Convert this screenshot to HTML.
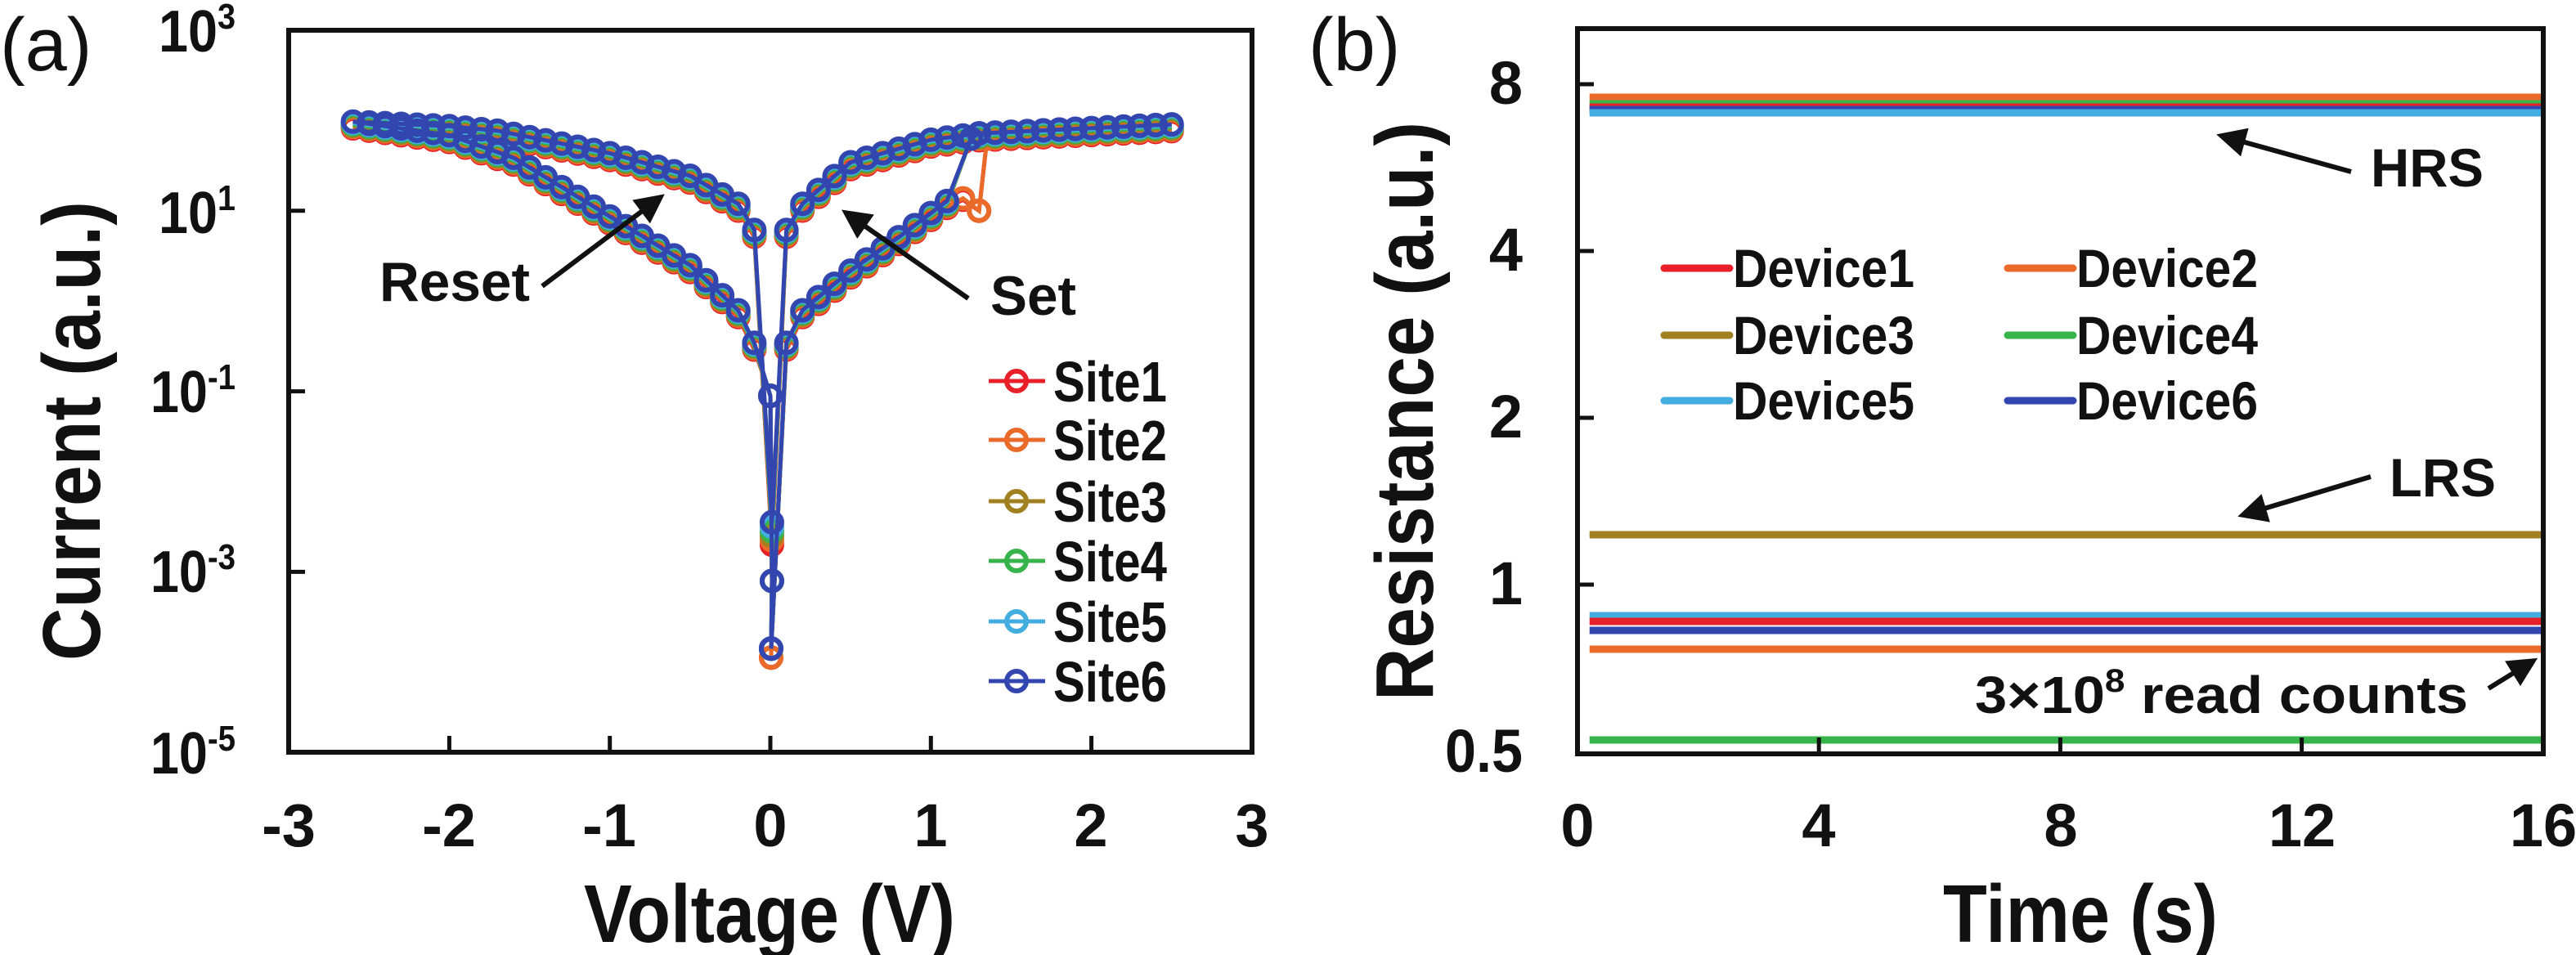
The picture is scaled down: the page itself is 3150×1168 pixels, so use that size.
<!DOCTYPE html>
<html><head><meta charset="utf-8"><style>
html,body{margin:0;padding:0;background:#fff;}
svg{display:block;}
text{font-family:"Liberation Sans Narrow","Liberation Sans",sans-serif;font-weight:bold;fill:#111;}
</style></head><body>
<svg id="s" width="3150" height="1168" viewBox="0 0 3150 1168" xmlns="http://www.w3.org/2000/svg">
<defs><marker id="ah" markerWidth="6" markerHeight="6" refX="5" refY="3" orient="auto" markerUnits="strokeWidth"><path d="M0,0 L6,3 L0,6 z" fill="#111"/></marker></defs>
<g id="g"></g>
<text x="0" y="86" font-size="92" style="font-weight:normal;font-family:'Liberation Sans',sans-serif">(a)</text>
<g font-size="72" text-anchor="end">
<text x="288" y="63" textLength="94" lengthAdjust="spacingAndGlyphs">10<tspan font-size="44" dy="-28">3</tspan></text>
<text x="288" y="285" textLength="94" lengthAdjust="spacingAndGlyphs">10<tspan font-size="44" dy="-28">1</tspan></text>
<text x="288" y="504" textLength="104" lengthAdjust="spacingAndGlyphs">10<tspan font-size="44" dy="-28">-1</tspan></text>
<text x="288" y="724" textLength="104" lengthAdjust="spacingAndGlyphs">10<tspan font-size="44" dy="-28">-3</tspan></text>
<text x="288" y="946" textLength="104" lengthAdjust="spacingAndGlyphs">10<tspan font-size="44" dy="-28">-5</tspan></text>
</g>
<g font-size="74" text-anchor="middle">
<text x="353" y="1035">-3</text><text x="549" y="1035">-2</text><text x="745" y="1035">-1</text><text x="942" y="1035">0</text><text x="1138" y="1035">1</text><text x="1334" y="1035">2</text><text x="1531" y="1035">3</text>
</g>
<text x="714" y="1152" font-size="100" textLength="454" lengthAdjust="spacingAndGlyphs">Voltage (V)</text>
<text transform="translate(122,808) rotate(-90)" font-size="100" textLength="562" lengthAdjust="spacingAndGlyphs">Current (a.u.)</text>
<text x="464" y="368" font-size="68" textLength="184" lengthAdjust="spacingAndGlyphs">Reset</text>
<text x="1211" y="385" font-size="68" textLength="105" lengthAdjust="spacingAndGlyphs">Set</text>
<line x1="663" y1="350" x2="808" y2="241" stroke="#111" stroke-width="6" marker-end="url(#ah)"/>
<line x1="1184" y1="365" x2="1034" y2="260" stroke="#111" stroke-width="6" marker-end="url(#ah)"/>
<text x="1600" y="86" font-size="92" style="font-weight:normal;font-family:'Liberation Sans',sans-serif">(b)</text>
<g font-size="74" text-anchor="end">
<text x="1862" y="127">8</text><text x="1862" y="331">4</text><text x="1862" y="535">2</text><text x="1862" y="739">1</text><text x="1862" y="944" textLength="95" lengthAdjust="spacingAndGlyphs">0.5</text>
</g>
<g font-size="74" text-anchor="middle">
<text x="1929" y="1035">0</text><text x="2224" y="1035">4</text><text x="2520" y="1035">8</text><text x="2815" y="1035">12</text><text x="3110" y="1035">16</text>
</g>
<text x="2376" y="1152" font-size="100" textLength="336" lengthAdjust="spacingAndGlyphs">Time (s)</text>
<text transform="translate(1752,857) rotate(-90)" font-size="100" textLength="708" lengthAdjust="spacingAndGlyphs">Resistance (a.u.)</text>
<text x="2899" y="228" font-size="66" textLength="138" lengthAdjust="spacingAndGlyphs">HRS</text>
<text x="2922" y="607" font-size="66" textLength="130" lengthAdjust="spacingAndGlyphs">LRS</text>
<text x="2415" y="872" font-size="64" textLength="603" lengthAdjust="spacingAndGlyphs">3×10<tspan font-size="40" dy="-26">8</tspan><tspan dy="26"> read counts</tspan></text>
<line x1="2875" y1="210" x2="2716" y2="166" stroke="#111" stroke-width="6" marker-end="url(#ah)"/>
<line x1="2899" y1="583" x2="2742" y2="630" stroke="#111" stroke-width="6" marker-end="url(#ah)"/>
<line x1="3043" y1="842" x2="3098" y2="808" stroke="#111" stroke-width="6" marker-end="url(#ah)"/>
</svg>
<script>
var g=document.getElementById('g'),NS='http://www.w3.org/2000/svg';
function el(t,a){var e=document.createElementNS(NS,t);for(var k in a)e.setAttribute(k,a[k]);g.appendChild(e);return e;}
var cols=['#e8202a','#ea6a2a','#a08020','#36b34a','#44ade0','#3346b0'];
var X=function(v){return 942+v*196.3;},Y=function(l){return 37+(3-l)*110.4;};
function interp(a,v){for(var i=0;i<a.length-1;i++){if(v>=a[i][0]-1e-9&&v<=a[i+1][0]+1e-9){var t=(v-a[i][0])/(a[i+1][0]-a[i][0]);return a[i][1]+t*(a[i+1][1]-a[i][1]);}}return a[a.length-1][1];}
var nu=[[-2.6,1.95],[-2.0,1.9],[-1.7,1.85],[-1.0,1.6],[-0.5,1.35],[-0.2,1.04],[-0.1,0.75]];
var nl=[[-2.6,1.95],[-2.0,1.8],[-1.6,1.55],[-1.0,0.9],[-0.5,0.36],[-0.2,-0.14],[-0.1,-0.5]];
var pu=[[0.1,0.75],[0.2,1.04],[0.5,1.5],[1.0,1.75],[1.3,1.82],[2.5,1.92]];
var pl=[[0.1,-0.5],[0.2,-0.14],[0.5,0.3],[0.8,0.67],[1.1,1.07],[1.2,1.16]];
function rng(a,b){var r=[];for(var v=a;v<=b+1e-9;v+=0.1)r.push(Math.round(v*10)/10);return r;}
for(var s=0;s<6;s++){
 var off=(s-2.5)*0.015, pts=[];
 var jump=(s<2)?1.3:1.2;
 pts.push([0.005,-3.85]);
 rng(0.1,jump-0.0001).forEach(function(v){pts.push([v,interp(pl,v)+off]);});
 if(s<2)pts.push([1.3,1.0]);
 pts.push([jump+0.05,1.8]);
 rng(1.3,2.5).forEach(function(v){pts.push([v,interp(pu,v)+off]);});
 rng(0.1,2.4).reverse().forEach(function(v){pts.push([v,interp(pu,v)+off]);});
 pts.push([0.01,-2.7+s*0.05]);
 pts.push([-0.1,0.75+off]);
 rng(-2.6,-0.2).reverse().forEach(function(v){pts.push([v,interp(nu,v)+off]);});
 rng(-2.5,-0.1).forEach(function(v){pts.push([v,interp(nl,v)+off]);});
 pts.push([0,-1.05]);pts.push([0.01,-3.1]);pts.push([0.005,-3.85-(s<2?0.1:0)]);
 var d=pts.map(function(p,i){return (i?'L':'M')+X(p[0]).toFixed(1)+','+Y(p[1]).toFixed(1);}).join('');
 el('path',{d:d,fill:'none',stroke:cols[s],'stroke-width':5});
 pts.forEach(function(p){el('circle',{cx:X(p[0]),cy:Y(p[1]),r:12,fill:'none',stroke:cols[s],'stroke-width':6});});
}
el('rect',{x:353,y:37,width:1178,height:883,fill:'none',stroke:'#111','stroke-width':6});
[-2,-1,0,1,2].forEach(function(v){el('line',{x1:X(v),x2:X(v),y1:920,y2:900,stroke:'#111','stroke-width':5});});
[1,-1,-3].forEach(function(l){el('line',{x1:353,x2:373,y1:Y(l),y2:Y(l),stroke:'#111','stroke-width':5});});
var ly=[466,538,613,686,760,833];
for(var s=0;s<6;s++){el('line',{x1:1209,x2:1278,y1:ly[s],y2:ly[s],stroke:cols[s],'stroke-width':5});
 el('circle',{cx:1243,cy:ly[s],r:12,fill:'none',stroke:cols[s],'stroke-width':6});
 var t=el('text',{x:1288,y:ly[s]+25,'font-size':70,textLength:139,lengthAdjust:'spacingAndGlyphs'});t.textContent='Site'+(s+1);}
var XR=function(t){return 1929+t*73.8;};
var lines=[[119,1],[127,3],[131,0],[134,5],[138,4],[654,2],[753,4],[760,0],[771,5],[794,1],[905,3]];
lines.forEach(function(l){el('line',{x1:XR(0.2),x2:3110,y1:l[0],y2:l[0],stroke:cols[l[1]],'stroke-width':9});});
el('rect',{x:1929,y:35,width:1181,height:887,fill:'none',stroke:'#111','stroke-width':6});
[4,8,12].forEach(function(t){el('line',{x1:XR(t),x2:XR(t),y1:922,y2:902,stroke:'#111','stroke-width':5});});
[103,307,511,715].forEach(function(y){el('line',{x1:1929,x2:1949,y1:y,y2:y,stroke:'#111','stroke-width':5});});
var lg=[[2035,328,0],[2455,328,1],[2035,410,2],[2455,410,3],[2035,490,4],[2455,490,5]];
lg.forEach(function(a){el('line',{x1:a[0],x2:a[0]+80,y1:a[1],y2:a[1],stroke:cols[a[2]],'stroke-width':9,'stroke-linecap':'round'});
 var t=el('text',{x:a[0]+84,y:a[1]+23,'font-size':66,textLength:222,lengthAdjust:'spacingAndGlyphs'});t.textContent='Device'+(a[2]+1);});
</script>
</body></html>
